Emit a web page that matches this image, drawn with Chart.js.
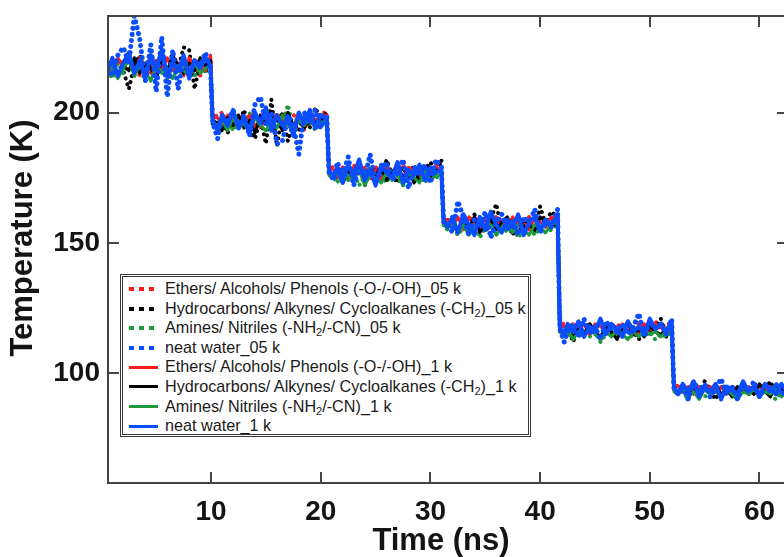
<!DOCTYPE html>
<html>
<head>
<meta charset="utf-8">
<script src="https://cdn.jsdelivr.net/npm/chart.js@4"></script>
<style>
  html, body { margin: 0; padding: 0; background: #fff; overflow: hidden; }
  #wrap { position: relative; width: 784px; height: 557px; overflow: hidden; }
  #legend {
    position: absolute; left: 120px; top: 274px; width: 411px; height: 163px;
    box-sizing: border-box; border: 3px double #3a3a3a; background: #fff;
    padding-top: 2px;
    font-family: "Liberation Sans", Arial, sans-serif; font-size: 16.2px; color: #1a1a1a;
  }
  .row { position: relative; height: 19.6px; line-height: 19.6px; padding-left: 42px; white-space: nowrap; }
  .row sub { font-size: 11px; vertical-align: -3px; line-height: 0; }
  .dots, .solid { position: absolute; left: 6px; top: 8px; }
  .dots { width: 25px; height: 4px; }
  .solid { width: 29px; height: 3px; top: 8.5px; }
</style>
</head>
<body>
<div id="wrap">
  <canvas id="c" width="800" height="557"></canvas>
  <div id="legend"></div>
</div>
<script>
// time axis (ns), shared by all series
const T = [
  0.6, 1.0, 1.5, 2.0, 2.5, 3.0, 3.5, 4.0, 4.5, 5.0, 5.5, 6.0, 6.5, 7.0, 7.5, 8.0, 8.5, 9.0, 9.5, 9.95,
  10.05, 10.15,
  10.6, 11.0, 11.5, 12.0, 12.5, 13.0, 13.5, 14.0, 14.5, 15.0, 15.5, 16.0, 16.5, 17.0, 17.5, 18.0, 18.5, 19.0, 19.5, 20.0, 20.55,
  20.65, 20.75,
  21.2, 21.5, 22.0, 22.5, 23.0, 23.5, 24.0, 24.5, 25.0, 25.5, 26.0, 26.5, 27.0, 27.5, 28.0, 28.5, 29.0, 29.5, 30.0, 30.5, 31.0,
  31.1, 31.2,
  31.6, 32.0, 32.5, 33.0, 33.5, 34.0, 34.5, 35.0, 35.5, 36.0, 36.5, 37.0, 37.5, 38.0, 38.5, 39.0, 39.5, 40.0, 40.5, 41.0, 41.6,
  41.7, 41.8,
  42.2, 42.5, 43.0, 43.5, 44.0, 44.5, 45.0, 45.5, 46.0, 46.5, 47.0, 47.5, 48.0, 48.5, 49.0, 49.5, 50.0, 50.5, 51.0, 51.5, 52.0,
  52.1, 52.2,
  52.6, 53.0, 53.5, 54.0, 54.5, 55.0, 55.5, 56.0, 56.5, 57.0, 57.5, 58.0, 58.5, 59.0, 59.5, 60.0, 60.5, 61.0, 61.5, 62.0, 62.5
];

// 05 k runs (dotted)
const ethers05 = [
  218, 220, 213, 220, 216, 219, 214, 219, 220, 215, 218, 212, 220, 217, 219, 216, 219, 214, 221, 220,
  208, 198,
  199, 200, 196, 200, 195, 199, 198, 200, 194, 199, 200, 197, 200, 195, 199, 198, 193, 200, 197, 200, 200,
  189, 179,
  179, 175, 179, 177, 180, 176, 179, 174, 179, 178, 179, 175, 178, 180, 176, 179, 177, 179, 175, 180, 179,
  169, 160,
  159, 157, 160, 155, 159, 160, 156, 160, 158, 160, 155, 159, 157, 160, 156, 160, 158, 159, 157, 159, 160,
  139, 119,
  119, 116, 119, 117, 119, 115, 119, 118, 119, 116, 119, 117, 119, 115, 120, 118, 116, 120, 117, 119, 119,
  107, 96,
  95, 93, 95, 94, 92, 95, 95, 93, 95, 94, 95, 92, 95, 95, 93, 96, 94, 95, 93, 95, 95
];
const hydro05 = [
  219, 214, 221, 216, 209, 218, 222, 215, 219, 213, 220, 216, 223, 217, 225, 224, 209, 220, 215, 221,
  206, 195,
  194, 198, 192, 199, 195, 201, 193, 190, 198, 188, 205, 187, 200, 189, 196, 193, 199, 194, 202, 197, 200,
  187, 176,
  176, 180, 173, 178, 175, 181, 172, 177, 179, 174, 182, 176, 173, 179, 175, 180, 174, 178, 181, 176, 182,
  167, 157,
  156, 160, 153, 158, 155, 161, 157, 154, 159, 165, 155, 158, 153, 160, 156, 159, 154, 164, 157, 162, 160,
  137, 116,
  115, 118, 112, 117, 114, 119, 116, 113, 118, 115, 117, 114, 120, 116, 113, 118, 115, 117, 121, 114, 118,
  105, 94,
  93, 96, 91, 94, 92, 97, 93, 90, 95, 92, 94, 91, 96, 93, 95, 91, 94, 97, 92, 95, 93
];
const amines05 = [
  216, 213, 219, 215, 221, 214, 217, 212, 220, 216, 218, 213, 219, 215, 217, 221, 214, 218, 216, 219,
  205, 196,
  196, 194, 199, 193, 197, 195, 200, 194, 198, 196, 193, 199, 195, 203, 194, 200, 195, 198, 193, 197, 198,
  186, 176,
  175, 173, 178, 174, 177, 172, 176, 179, 174, 176, 173, 178, 175, 172, 177, 174, 176, 173, 177, 175, 176,
  166, 156,
  155, 157, 153, 156, 154, 158, 152, 156, 155, 153, 157, 154, 156, 152, 155, 157, 153, 156, 154, 155, 157,
  136, 115,
  114, 116, 113, 115, 117, 114, 116, 112, 115, 117, 114, 116, 113, 115, 117, 114, 116, 113, 115, 114, 116,
  104, 93,
  92, 93, 90, 94, 92, 91, 93, 95, 91, 93, 92, 90, 94, 92, 93, 91, 94, 92, 90, 93, 92
];
const water05 = [
  217, 214, 222, 225, 219, 237, 228, 212, 226, 208, 229, 206, 224, 209, 221, 215, 220, 218, 223, 216,
  205, 196,
  190, 199, 196, 201, 194, 199, 191, 203, 206, 195, 200, 188, 189, 199, 195, 184, 200, 196, 201, 194, 199,
  188, 177,
  174, 181, 176, 183, 172, 179, 175, 184, 173, 178, 181, 174, 177, 182, 171, 179, 176, 180, 173, 182, 179,
  168, 158,
  157, 154, 166, 160, 153, 159, 156, 162, 152, 158, 161, 155, 159, 153, 160, 157, 163, 154, 158, 156, 163,
  138, 117,
  112, 116, 119, 114, 121, 115, 118, 113, 120, 117, 116, 119, 115, 118, 123, 114, 120, 117, 119, 115, 121,
  106, 94,
  92, 95, 90, 97, 93, 96, 91, 94, 98, 92, 95, 90, 96, 93, 97, 91, 95, 93, 96, 92, 94
];

// 1 k runs (solid)
const ethers1 = [
  219, 215, 221, 217, 220, 216, 221, 218, 215, 220, 217, 221, 216, 219, 214, 221, 218, 220, 216, 222,
  208, 198,
  198, 195, 199, 197, 199, 196, 199, 194, 199, 198, 196, 199, 197, 199, 195, 199, 197, 199, 196, 199, 199,
  188, 179,
  178, 176, 179, 175, 179, 177, 179, 176, 178, 174, 179, 177, 179, 175, 179, 178, 176, 179, 177, 179, 178,
  168, 159,
  159, 157, 160, 156, 160, 158, 155, 160, 157, 160, 158, 156, 160, 157, 159, 155, 160, 158, 156, 160, 159,
  139, 118,
  118, 116, 119, 117, 119, 115, 119, 118, 116, 119, 117, 119, 116, 118, 115, 119, 117, 119, 118, 116, 119,
  106, 95,
  95, 93, 95, 92, 95, 94, 95, 93, 95, 92, 95, 94, 93, 95, 92, 95, 94, 95, 93, 95, 94
];
const hydro1 = [
  217, 220, 214, 218, 216, 221, 215, 219, 217, 213, 220, 216, 222, 218, 215, 219, 216, 221, 218, 220,
  207, 197,
  196, 193, 198, 195, 199, 194, 197, 192, 199, 196, 194, 198, 193, 200, 195, 197, 194, 199, 196, 198, 197,
  187, 177,
  176, 179, 174, 177, 175, 180, 173, 178, 176, 179, 174, 177, 180, 175, 178, 173, 177, 179, 175, 178, 177,
  167, 158,
  157, 159, 155, 158, 156, 160, 154, 157, 159, 155, 158, 160, 156, 154, 159, 157, 155, 160, 158, 156, 158,
  137, 117,
  116, 118, 114, 117, 115, 119, 116, 114, 118, 116, 113, 117, 119, 115, 117, 114, 118, 116, 115, 117, 118,
  105, 94,
  93, 95, 92, 94, 91, 95, 93, 96, 92, 94, 91, 95, 93, 94, 92, 96, 93, 91, 95, 94, 93
];
const amines1 = [
  215, 218, 213, 217, 220, 214, 218, 216, 212, 219, 215, 217, 213, 218, 216, 214, 219, 215, 217, 218,
  206, 196,
  195, 197, 193, 198, 194, 196, 192, 198, 195, 193, 197, 194, 199, 195, 193, 197, 195, 198, 194, 196, 197,
  187, 176,
  175, 177, 173, 176, 174, 178, 172, 176, 175, 173, 177, 174, 176, 172, 177, 175, 173, 178, 174, 176, 176,
  166, 157,
  156, 158, 154, 157, 153, 156, 158, 155, 157, 153, 156, 158, 154, 157, 155, 153, 157, 156, 154, 157, 158,
  136, 116,
  115, 117, 113, 116, 114, 117, 115, 113, 116, 114, 117, 115, 113, 116, 114, 117, 115, 116, 114, 116, 117,
  104, 93,
  92, 94, 91, 93, 90, 94, 92, 93, 91, 94, 92, 90, 93, 92, 94, 91, 93, 92, 94, 91, 93
];
const water1 = [
  216, 221, 214, 219, 223, 215, 220, 213, 222, 217, 224, 214, 219, 216, 222, 213, 220, 217, 221, 218,
  207, 197,
  193, 199, 195, 201, 194, 198, 192, 200, 196, 202, 193, 199, 195, 198, 191, 200, 196, 201, 194, 199, 198,
  188, 178,
  175, 179, 173, 180, 176, 182, 174, 178, 172, 180, 177, 175, 181, 173, 178, 176, 180, 174, 179, 177, 178,
  168, 159,
  156, 160, 154, 161, 157, 153, 160, 155, 162, 157, 154, 159, 156, 161, 153, 158, 160, 155, 159, 157, 160,
  138, 118,
  115, 119, 116, 120, 114, 118, 116, 121, 115, 119, 117, 114, 120, 116, 118, 115, 121, 117, 119, 116, 120,
  106, 95,
  92, 96, 93, 97, 91, 95, 93, 96, 90, 95, 94, 92, 97, 93, 95, 91, 96, 94, 92, 96, 93
];

const xTicks = [10, 20, 30, 40, 50, 60];
const yTicks = [100, 150, 200];

const RED = '#ff1a1a', BLACK = '#000000', GREEN = '#1e9a3c', BLUE = '#0a4dff';

const series = [
  { label: 'Ethers/ Alcohols/ Phenols (-O-/-OH)_05 k', html: 'Ethers/ Alcohols/ Phenols (-O-/-OH)_05 k', values: ethers05, color: RED, dotted: true, order: 7 },
  { label: 'Hydrocarbons/ Alkynes/ Cycloalkanes (-CH2)_05 k', html: 'Hydrocarbons/ Alkynes/ Cycloalkanes (-CH<sub>2</sub>)_05 k', values: hydro05, color: BLACK, dotted: true, order: 6 },
  { label: 'Amines/ Nitriles (-NH2/-CN)_05 k', html: 'Amines/ Nitriles (-NH<sub>2</sub>/-CN)_05 k', values: amines05, color: GREEN, dotted: true, order: 5 },
  { label: 'neat water_05 k', html: 'neat water_05 k', values: water05, color: BLUE, dotted: true, order: 1 },
  { label: 'Ethers/ Alcohols/ Phenols (-O-/-OH)_1 k', html: 'Ethers/ Alcohols/ Phenols (-O-/-OH)_1 k', values: ethers1, color: RED, dotted: false, order: 4 },
  { label: 'Hydrocarbons/ Alkynes/ Cycloalkanes (-CH2)_1 k', html: 'Hydrocarbons/ Alkynes/ Cycloalkanes (-CH<sub>2</sub>)_1 k', values: hydro1, color: BLACK, dotted: false, order: 3 },
  { label: 'Amines/ Nitriles (-NH2/-CN)_1 k', html: 'Amines/ Nitriles (-NH<sub>2</sub>/-CN)_1 k', values: amines1, color: GREEN, dotted: false, order: 2 },
  { label: 'neat water_1 k', html: 'neat water_1 k', values: water1, color: BLUE, dotted: false, order: 0 }
];

// legend box (html)
const legend = document.getElementById('legend');
series.forEach(s => {
  const row = document.createElement('div');
  row.className = 'row';
  const sample = document.createElement('span');
  if (s.dotted) {
    sample.className = 'dots';
    sample.style.background = `repeating-linear-gradient(90deg, ${s.color} 0 5px, transparent 5px 10px)`;
  } else {
    sample.className = 'solid';
    sample.style.background = s.color;
  }
  row.appendChild(sample);
  const txt = document.createElement('span');
  txt.innerHTML = s.html;
  row.appendChild(txt);
  legend.appendChild(row);
});

const FONT = '"Liberation Sans", Arial, sans-serif';

// box frame with inward ticks, plus axis titles
const framePlugin = {
  id: 'frame',
  afterDraw(chart) {
    const { ctx, chartArea: a, scales: { x, y } } = chart;
    ctx.save();
    ctx.strokeStyle = '#444';
    ctx.lineWidth = 2;
    ctx.strokeRect(a.left, a.top, a.right - a.left, a.bottom - a.top);
    ctx.beginPath();
    xTicks.forEach(v => {
      const px = Math.round(x.getPixelForValue(v));
      ctx.moveTo(px, a.bottom); ctx.lineTo(px, a.bottom - 11);
      ctx.moveTo(px, a.top); ctx.lineTo(px, a.top + 11);
    });
    yTicks.forEach(v => {
      const py = Math.round(y.getPixelForValue(v));
      ctx.moveTo(a.left, py); ctx.lineTo(a.left + 11, py);
      ctx.moveTo(a.right, py); ctx.lineTo(a.right - 11, py);
    });
    ctx.stroke();

    ctx.fillStyle = '#141414';
    ctx.font = 'bold 31px ' + FONT;
    ctx.textAlign = 'center';
    ctx.textBaseline = 'middle';
    ctx.fillText('Time (ns)', 441, 541);
    ctx.translate(23, 238);
    ctx.rotate(-Math.PI / 2);
    ctx.fillText('Temperature (K)', 0, 0);
    ctx.restore();
  }
};

const noPad = s => { s.paddingTop = 0; s.paddingBottom = 0; s.paddingLeft = 0; s.paddingRight = 0; };

new Chart(document.getElementById('c'), {
  type: 'line',
  data: {
    datasets: series.map(s => ({
      label: s.label,
      data: T.map((t, i) => ({ x: t, y: s.values[i] })),
      borderColor: s.color,
      backgroundColor: s.color,
      borderWidth: s.dotted ? (s.color === BLUE ? 5 : 4) : (s.color === BLUE ? 4 : 3),
      borderDash: s.dotted ? [0.1, 6] : [],
      borderCapStyle: s.dotted ? 'round' : 'butt',
      borderJoinStyle: 'round',
      pointRadius: 0,
      tension: 0,
      fill: false,
      order: s.order
    }))
  },
  options: {
    responsive: false,
    animation: false,
    devicePixelRatio: 1,
    layout: { padding: { top: 16, right: 12, left: 0, bottom: 0 } },
    plugins: { legend: { display: false }, tooltip: { enabled: false } },
    scales: {
      x: {
        type: 'linear',
        min: 0.6,
        max: 62.6,
        grid: { display: false, drawTicks: false },
        border: { display: false },
        afterBuildTicks: s => { s.ticks = xTicks.map(v => ({ value: v })); },
        afterFit: s => { s.height = 74; noPad(s); },
        ticks: {
          padding: 12,
          color: '#141414',
          font: { family: FONT, size: 28, weight: 'bold' },
          maxRotation: 0
        }
      },
      y: {
        min: 58,
        max: 237,
        grid: { display: false, drawTicks: false },
        border: { display: false },
        afterBuildTicks: s => { s.ticks = yTicks.map(v => ({ value: v })); },
        afterFit: s => { s.width = 108; noPad(s); },
        ticks: {
          padding: 8,
          color: '#141414',
          font: { family: FONT, size: 28, weight: 'bold' }
        }
      }
    }
  },
  plugins: [framePlugin]
});
</script>
</body>
</html>
